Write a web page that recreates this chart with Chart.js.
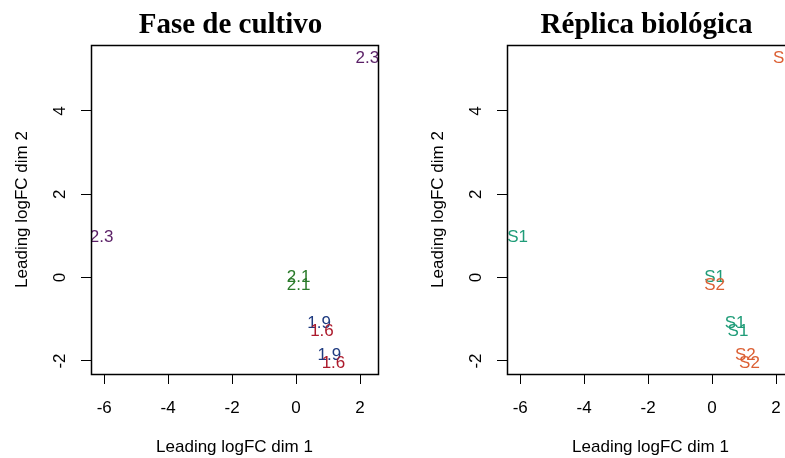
<!DOCTYPE html>
<html>
<head>
<meta charset="utf-8">
<script src="https://cdn.jsdelivr.net/npm/chart.js@4.4.1/dist/chart.umd.min.js"></script>
<style>
  html, body { margin: 0; padding: 0; background: #fff; overflow: hidden; width: 785px; height: 458px; }
  #wrap { position: relative; width: 785px; height: 458px; overflow: hidden; }
  .panel { position: absolute; top: 0; height: 458px; }
  #left { left: 0; width: 392px; }
  #right { left: 392px; width: 420px; }
</style>
</head>
<body>
<div id="wrap">
  <div class="panel" id="left"><canvas id="c1"></canvas></div>
  <div class="panel" id="right"><canvas id="c2"></canvas></div>
</div>
<script>
// MDS coordinates of the eight samples
const dim1 = [2.23, -6.08, 0.08, 0.08, 0.72, 0.81, 1.04, 1.17];
const dim2 = [5.29, 1.00, 0.03, -0.17, -1.08, -1.27, -1.83, -2.02];

// sample labels for each panel
const phaseLabels = ['2.3', '2.3', '2.1', '2.1', '1.9', '1.6', '1.9', '1.6'];
const replicaLabels = ['S2', 'S1', 'S1', 'S2', 'S1', 'S1', 'S2', 'S2'];

const phaseColors = { '2.3': '#5a1f66', '2.1': '#2a7a2a', '1.9': '#1f3b80', '1.6': '#ac1a2c' };
const replicaColors = { 'S1': '#1f9c78', 'S2': '#dc6034' };

const xTicks = [-6, -4, -2, 0, 2];
const yTicks = [-2, 0, 2, 4];

const panelTitles = ['Fase de cultivo', 'Réplica biológica'];
const xTitle = 'Leading logFC dim 1';
const yTitle = 'Leading logFC dim 2';

const SANS = '"Liberation Sans", Arial, Helvetica, sans-serif';
const SERIF = '"Liberation Serif", "Times New Roman", serif';

// axis limits padded by 4% of the data range on each side
function paddedRange(arr) {
  const lo = Math.min(...arr), hi = Math.max(...arr);
  const pad = (hi - lo) * 0.04;
  return [lo - pad, hi + pad];
}
const [xMin, xMax] = paddedRange(dim1);
const [yMin, yMax] = paddedRange(dim2);

// text labels at each point, plot box and panel title
const labelPlugin = {
  id: 'mdsDecor',
  afterDatasetsDraw(chart, args, opts) {
    const { ctx, chartArea: a } = chart;
    const meta = chart.getDatasetMeta(0);
    ctx.save();
    ctx.beginPath();
    ctx.rect(a.left, a.top, a.right - a.left, a.bottom - a.top);
    ctx.clip();
    ctx.font = '17px ' + SANS;
    ctx.textAlign = 'center';
    ctx.textBaseline = 'middle';
    meta.data.forEach((pt, i) => {
      const lab = opts.labels[i];
      ctx.fillStyle = opts.colors[lab];
      ctx.fillText(lab, pt.x, pt.y + 1);
    });
    ctx.restore();
  },
  afterDraw(chart, args, opts) {
    const { ctx, chartArea: a } = chart;
    ctx.save();
    ctx.strokeStyle = '#000';
    ctx.lineWidth = 1.5;
    ctx.strokeRect(Math.round(a.left) + 0.5, Math.round(a.top) + 0.5,
                   Math.round(a.right - a.left), Math.round(a.bottom - a.top));
    ctx.fillStyle = '#000';
    ctx.font = 'bold 29px ' + SERIF;
    ctx.textAlign = 'center';
    ctx.textBaseline = 'alphabetic';
    ctx.fillText(opts.title, (a.left + a.right) / 2 - 4, 33);
    ctx.restore();
  }
};

function buildChart(canvasId, labels, colors, title, padLeft, padRight) {
  const pts = dim1.map((x, i) => ({ x: x, y: dim2[i] }));
  const gridOpts = {
    display: true, drawOnChartArea: false, drawTicks: true,
    tickLength: 10, color: '#000', lineWidth: 1
  };
  return new Chart(document.getElementById(canvasId), {
    type: 'scatter',
    data: { datasets: [{ data: pts, pointRadius: 0, pointHoverRadius: 0 }] },
    options: {
      responsive: true,
      maintainAspectRatio: false,
      animation: false,
      devicePixelRatio: 1,
      events: [],
      layout: { padding: { left: padLeft, right: padRight, top: 45, bottom: 0 } },
      plugins: {
        legend: { display: false },
        tooltip: { enabled: false },
        mdsDecor: { labels: labels, colors: colors, title: title }
      },
      scales: {
        x: {
          type: 'linear', min: xMin, max: xMax,
          afterBuildTicks: s => { s.ticks = xTicks.map(v => ({ value: v })); },
          afterFit: s => { s.height = 84; },
          grid: gridOpts,
          border: { display: false },
          ticks: { color: '#000', font: { size: 17, family: SANS }, padding: 14,
                   maxRotation: 0, autoSkip: false, callback: v => String(v) },
          title: { display: true, text: xTitle, color: '#000',
                   font: { size: 17, family: SANS }, padding: { top: 0, bottom: 0 } }
        },
        y: {
          type: 'linear', min: yMin, max: yMax,
          afterBuildTicks: s => { s.ticks = yTicks.map(v => ({ value: v })); },
          afterFit: s => { s.width = 91; },
          grid: gridOpts,
          border: { display: false },
          ticks: { color: '#000', font: { size: 17, family: SANS }, padding: 13,
                   minRotation: 90, maxRotation: 90, crossAlign: 'center',
                   autoSkip: false, callback: v => String(v) },
          title: { display: true, text: yTitle, color: '#000',
                   font: { size: 17, family: SANS }, padding: { top: 12, bottom: 0 } }
        }
      }
    },
    plugins: [labelPlugin]
  });
}

buildChart('c1', phaseLabels, phaseColors, panelTitles[0], 0, 14);
buildChart('c2', replicaLabels, replicaColors, panelTitles[1], 24, 18);
</script>
</body>
</html>
